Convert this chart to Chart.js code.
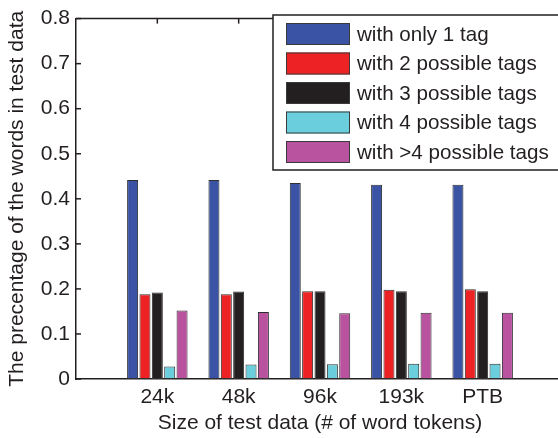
<!DOCTYPE html>
<html><head><meta charset="utf-8">
<script src="https://cdn.jsdelivr.net/npm/chart.js@4/dist/chart.umd.min.js"></script>
<style>html,body{margin:0;padding:0;background:#fff;overflow:hidden;width:558px;height:438px}canvas{display:block}</style>
</head><body>
<canvas id="c" width="570" height="438"></canvas>
<script>
const categories = ['24k', '48k', '96k', '193k', 'PTB'];
const seriesNames = ['with only 1 tag', 'with 2 possible tags', 'with 3 possible tags', 'with 4 possible tags', 'with >4 possible tags'];
const only1Tag = [0.442, 0.442, 0.435, 0.431, 0.431];
const twoTags = [0.188, 0.188, 0.195, 0.198, 0.199];
const threeTags = [0.192, 0.194, 0.195, 0.195, 0.195];
const fourTags = [0.028, 0.032, 0.033, 0.034, 0.034];
const moreTags = [0.152, 0.149, 0.146, 0.147, 0.147];
const yTicks = [0, 0.1, 0.2, 0.3, 0.4, 0.5, 0.6, 0.7, 0.8];
const xTitle = 'Size of test data (# of word tokens)';
const yTitle = 'The precentage of the words in test data';

const colors = ['#3a53a4', '#ed2224', '#231f20', '#6bcedd', '#b9529f'];
const ink = '#231f20';
const FONT = '"Liberation Sans", Arial, Helvetica, sans-serif';
const FS = 21;

// pad an empty slot on each side so categories sit one full step in from the left edge
const labels = [''].concat(categories, ['']);
const pad = arr => [null].concat(arr, [null]);
const series = [only1Tag, twoTags, threeTags, fourTags, moreTags];

const frame = {
  id: 'frame',
  afterDatasetsDraw(chart) {
    const {ctx, chartArea: a, scales: {x, y}} = chart;
    ctx.save();
    ctx.strokeStyle = ink;
    ctx.lineWidth = 1.5;
    const line = (x1, y1, x2, y2) => { ctx.beginPath(); ctx.moveTo(x1, y1); ctx.lineTo(x2, y2); ctx.stroke(); };
    line(a.left, a.top, a.right, a.top);
    y.ticks.forEach(t => {
      const py = y.getPixelForValue(t.value);
      line(a.left, py, a.left + 5, py);
      line(a.right, py, a.right - 5, py);
    });
    x.ticks.forEach((t, i) => {
      if (!labels[i]) return;
      const px = x.getPixelForTick(i);
      line(px, a.top, px, a.top + 5);
      line(px, a.bottom, px, a.bottom - 5);
    });
    ctx.restore();
  },
  afterDraw(chart) {
    const {ctx} = chart;
    const bx = 273, by = 15, bw = 320, bh = 155;
    ctx.save();
    ctx.fillStyle = '#fff';
    ctx.fillRect(bx, by, bw, bh);
    ctx.strokeStyle = ink;
    ctx.lineWidth = 1.5;
    ctx.strokeRect(bx, by, bw, bh);
    ctx.font = '20.6px ' + FONT;
    ctx.textBaseline = 'middle';
    ctx.textAlign = 'left';
    chart.data.datasets.forEach((ds, i) => {
      const cy = 34 + i * 29.5;
      ctx.fillStyle = ds.backgroundColor;
      ctx.fillRect(286, cy - 11, 64, 22);
      ctx.strokeStyle = '#3a3a3a';
      ctx.lineWidth = 1;
      ctx.strokeRect(286.5, cy - 10.5, 63, 21);
      ctx.fillStyle = ink;
      ctx.fillText(ds.label, 357, cy + 1);
    });
    ctx.restore();
  }
};

new Chart(document.getElementById('c'), {
  type: 'bar',
  data: {
    labels: labels,
    datasets: series.map((s, i) => ({
      label: seriesNames[i],
      data: pad(s),
      backgroundColor: colors[i],
      borderColor: '#2e2e2e',
      borderWidth: 1,
      borderSkipped: false,
      categoryPercentage: 0.76,
      barPercentage: 0.89
    }))
  },
  options: {
    responsive: false,
    animation: false,
    devicePixelRatio: 1,
    layout: {padding: {top: 12, right: 2, left: 0, bottom: 0}},
    plugins: {legend: {display: false}, tooltip: {enabled: false}},
    scales: {
      x: {
        offset: false,
        grid: {display: false, drawTicks: false, offset: false},
        border: {display: true, color: ink, width: 1.5},
        ticks: {autoSkip: false, maxRotation: 0, padding: 6, color: ink, font: {family: FONT, size: FS}},
        title: {display: true, text: xTitle, color: ink, font: {family: FONT, size: FS}, padding: {top: 0, bottom: 2}},
        afterFit(s) { s.height = 59; }
      },
      y: {
        min: 0, max: 0.8,
        grid: {display: false, drawTicks: false},
        border: {display: true, color: ink, width: 1.5},
        afterBuildTicks(s) { s.ticks = yTicks.map(v => ({value: v})); },
        ticks: {padding: 6, color: ink, font: {family: FONT, size: FS}, callback: v => String(+v.toFixed(1))},
        title: {display: true, text: yTitle, color: ink, font: {family: FONT, size: FS}, padding: {top: 5, bottom: 0}},
        afterFit(s) { s.width = 76; }
      }
    }
  },
  plugins: [frame]
});
</script>
</body></html>
